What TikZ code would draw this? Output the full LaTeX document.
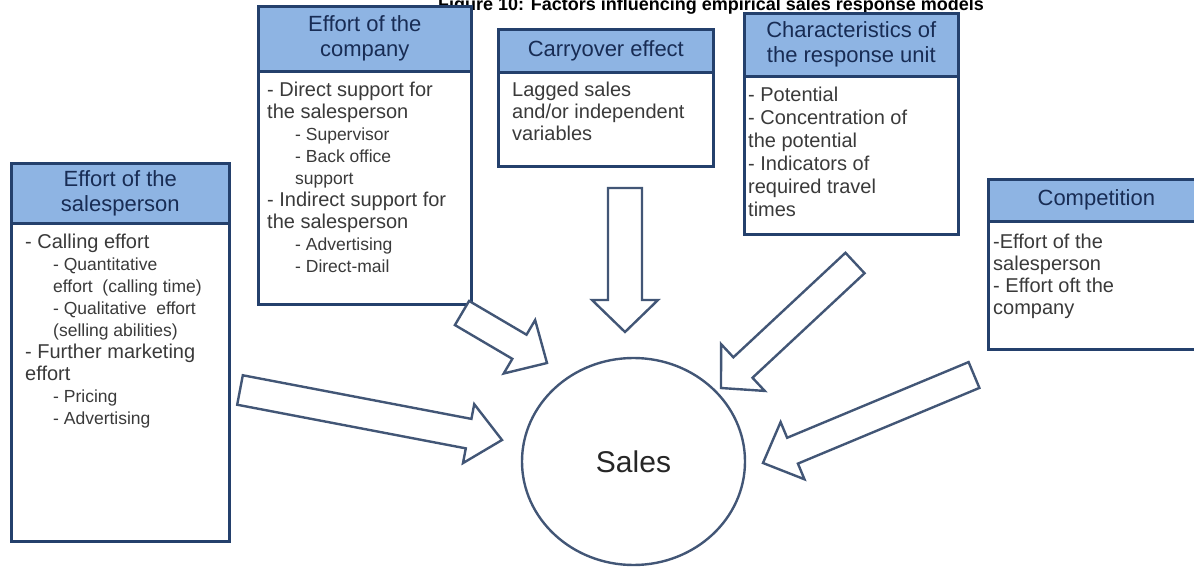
\documentclass[tikz,border=0pt]{standalone}
\usepackage{fontspec}
\setmainfont{Liberation Sans}
\usetikzlibrary{calc,shapes.geometric}

\definecolor{hdrfill}{RGB}{142,180,227}
\definecolor{boxline}{RGB}{36,64,108}
\definecolor{arrowline}{RGB}{66,86,118}
\definecolor{hdrtext}{RGB}{24,44,84}
\definecolor{bodytext}{RGB}{58,58,58}

% block arrow from tail coordinate to tip coordinate
% #1 name, #2 tail, #3 tip, #4 shaft half width, #5 head half width, #6 head length
\newcommand\fatarrow[6]{%
  \coordinate (#1-t) at #2;
  \coordinate (#1-p) at #3;
  \coordinate (#1-h) at ($(#1-p)!#6!(#1-t)$);
  \draw[blockarrow]
    ($(#1-t)!#4!90:(#1-p)$) -- ($(#1-h)!#4!90:(#1-p)$) -- ($(#1-h)!#5!90:(#1-p)$)
    -- (#1-p)
    -- ($(#1-h)!#5!-90:(#1-p)$) -- ($(#1-h)!#4!-90:(#1-p)$) -- ($(#1-t)!#4!-90:(#1-p)$)
    -- cycle;
}
\newcommand\minoritem[1]{{\fontsize{17.5}{22}\selectfont\hspace*{28pt}#1}}

\begin{document}
\begin{tikzpicture}[x=1pt,y=-1pt,
  frame/.style={draw=boxline, line width=2.6pt},
  hdr/.style={frame, fill=hdrfill, text=hdrtext, align=center,
    font=\fontsize{22}{25}\selectfont, inner sep=0pt, anchor=north west},
  bodybox/.style={frame, fill=white, inner sep=0pt, anchor=north west},
  bodytxt/.style={text=bodytext, align=left,
    font=\fontsize{20}{22}\selectfont, inner sep=0pt, anchor=north west},
  blockarrow/.style={draw=arrowline, fill=white, line width=2.4pt, line join=miter},
]
\useasboundingbox (0,0) rectangle (1194,569);
\clip (0,0) rectangle (1194,569);

% title
\node[font=\bfseries\fontsize{18}{20}\selectfont, anchor=base] (title) at (711,10.5)
  {Figure 10: Factors influencing empirical sales response models};

% effort of the salesperson
\node[bodybox, minimum width=218pt, minimum height=378pt] (sp) at (10,162) {};
\node[hdr, minimum width=218pt, minimum height=60pt] (sp-hd) at (10,162) {Effort of the\\salesperson};
\node[bodytxt] (sp-tx) at (25,233.5) {- Calling effort\\
  \minoritem{- Quantitative}\\
  \minoritem{effort\ \ (calling time)}\\
  \minoritem{- Qualitative\ \ effort}\\
  \minoritem{(selling abilities)}\\
  - Further marketing\\
  effort\\
  \minoritem{- Pricing}\\
  \minoritem{- Advertising}};

% effort of the company
\node[bodybox, minimum width=213pt, minimum height=298pt] (co) at (257,5) {};
\node[hdr, minimum width=213pt, minimum height=65pt] (co-hd) at (257,5) {Effort of the\\company};
\node[bodytxt] (co-tx) at (267,81.5) {- Direct support for\\
  the salesperson\\
  \minoritem{- Supervisor}\\
  \minoritem{- Back office}\\
  \minoritem{support}\\
  - Indirect support for\\
  the salesperson\\
  \minoritem{- Advertising}\\
  \minoritem{- Direct-mail}};

% carryover effect
\node[bodybox, minimum width=215pt, minimum height=137pt] (ca) at (497,28) {};
\node[hdr, minimum width=215pt, minimum height=43pt] (ca-hd) at (497,28) {Carryover effect};
\node[bodytxt] (ca-tx) at (512,81.5) {Lagged sales\\and/or independent\\variables};

% characteristics of the response unit
\node[bodybox, minimum width=214pt, minimum height=221pt] (ru) at (743,12) {};
\node[hdr, minimum width=214pt, minimum height=63pt] (ru-hd) at (743,12) {Characteristics of\\the response unit};
\node[bodytxt, font=\fontsize{20}{23}\selectfont] (ru-tx) at (748,86.5) {- Potential\\
  - Concentration of\\the potential\\- Indicators of\\required travel\\times};

% competition (runs past the right edge)
\node[bodybox, minimum width=216pt, minimum height=170pt] (cp) at (987,178) {};
\node[hdr, minimum width=216pt, minimum height=42pt] (cp-hd) at (987,178) {Competition};
\node[bodytxt] (cp-tx) at (993,233.5) {-Effort of the\\salesperson\\- Effort oft the\\company};

% sales
\node[draw=arrowline, line width=2.4pt, ellipse, minimum width=223pt, minimum height=207pt,
  inner sep=0pt, font=\fontsize{30}{36}\selectfont, text=black!85] (sales) at (633.5,461.5) {Sales};

% influence arrows
\fatarrow{a-sp}{(240,390)}{(502,440)}{15pt}{30pt}{34pt}
\fatarrow{a-co}{(462,313)}{(547,363)}{14pt}{31pt}{32pt}
\fatarrow{a-ca}{(625,188)}{(625,332)}{17pt}{33pt}{32pt}
\fatarrow{a-ru}{(855,263)}{(721,388)}{14pt}{32pt}{30pt}
\fatarrow{a-cp}{(974,375)}{(763,463)}{14pt}{31pt}{32pt}
\end{tikzpicture}
\end{document}
